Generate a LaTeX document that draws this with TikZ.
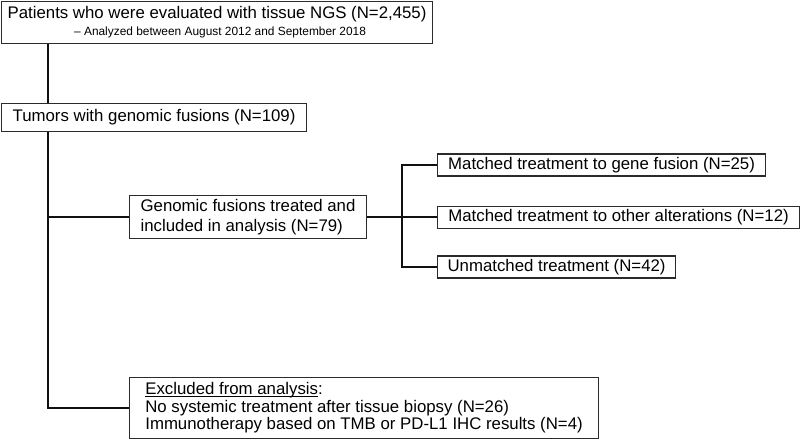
\documentclass[tikz,border=0pt]{standalone}
\usepackage{fontspec}
\setmainfont{Liberation Sans}
\usepackage{xcolor}
\usepackage{tikz}
\definecolor{frame}{HTML}{2B2B2B}
\definecolor{link}{HTML}{111111}
\newcommand{\bigtxt}{\fontsize{16.8}{20}\selectfont}
\newcommand{\smalltxt}{\fontsize{11.9}{14}\selectfont}
\newcommand{\undl}[1]{\setbox0\hbox{#1}\rlap{\rule[-2pt]{\wd0}{0.9pt}}\box0}
\tikzset{
  box/.style={draw=frame, line width=1.1pt, anchor=north west, inner xsep=9pt,
    inner ysep=0pt, align=left, font=\bigtxt},
  conn/.style={draw=link, line width=1.8pt},
}

\begin{document}
\begin{tikzpicture}[x=1pt, y=-1pt]
  \useasboundingbox (0,0) rectangle (800,441);
  \coordinate (trunk) at (48,0);     % main vertical line

  \node[box, inner xsep=2pt, align=center, minimum width=431pt, minimum height=42pt]
    (pts) at (1,1)
    {Patients who were evaluated with tissue NGS (N=2,455)\\[-3pt]
     {\smalltxt\hspace*{6pt}-- Analyzed between August 2012 and September 2018}};
  \node[box, minimum width=305pt, minimum height=28pt] (fus) at (1,103)
    {Tumors with genomic fusions (N=109)};
  \node[box, minimum width=237pt, minimum height=43pt] (trt) at (129,195)
    {Genomic fusions treated and\\included in analysis (N=79)};
  \path (trt.east) ++(35,0) coordinate (br);   % split to the three treatments

  \node[box, minimum width=328pt, minimum height=22pt, anchor=west] (gf) at (437,165)
    {Matched treatment to gene fusion (N=25)};
  \node[box, minimum width=362pt, minimum height=22pt, anchor=west] (oa) at (br -| gf.west)
    {Matched treatment to other alterations (N=12)};
  \node[box, minimum width=238pt, minimum height=22pt, anchor=west] (um) at (437,267)
    {Unmatched treatment (N=42)};

  \node[box, minimum width=469pt, minimum height=61pt, font=\fontsize{16.8}{17.5}\selectfont]
    (exc) at (129,377)
    {\undl{Excluded from analysis}:\\
     No systemic treatment after tissue biopsy (N=26)\\
     Immunotherapy based on TMB or PD-L1 IHC results (N=4)};

  \draw[conn] (pts.south -| trunk) -- (fus.north -| trunk);
  \draw[conn] (fus.south -| trunk) |- (exc.west);
  \draw[conn] (trunk |- trt.west) -- (trt.west);
  \draw[conn] (trt.east) -- (oa.west);
  \draw[conn] (gf.west) -| (br) |- (um.west);
\end{tikzpicture}
\end{document}
